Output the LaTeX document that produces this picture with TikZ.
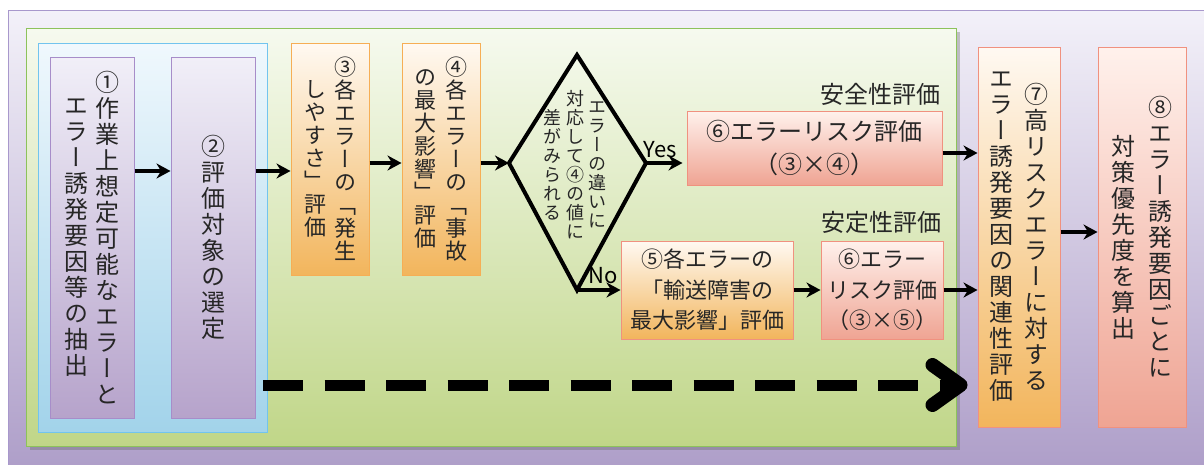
\documentclass[tikz,border=0pt]{standalone}
\usepackage{fontspec}
\usepackage{tikz}
\usetikzlibrary{positioning,arrows.meta,shadows}

\newfontfamily\jp{Noto Sans CJK JP}
\newfontfamily\vjp[RawFeature=+vert]{Noto Sans CJK JP}

\definecolor{txt}{HTML}{262626}
\definecolor{bgtop}{HTML}{F3F1F9}
\definecolor{bgbot}{HTML}{AD9DC8}
\definecolor{bgline}{HTML}{A898CC}
\definecolor{grntop}{HTML}{F6FAEF}
\definecolor{grnbot}{HTML}{C0D688}
\definecolor{grnline}{HTML}{8DC25B}
\definecolor{blutop}{HTML}{F0F8FD}
\definecolor{blubot}{HTML}{A2D3EA}
\definecolor{bluline}{HTML}{72C4EE}
\definecolor{purtop}{HTML}{F1EFF8}
\definecolor{purbot}{HTML}{B6A3CB}
\definecolor{purline}{HTML}{A78DC9}
\definecolor{orgtop}{HTML}{FFF9F2}
\definecolor{orgbot}{HTML}{F2B55C}
\definecolor{orgline}{HTML}{F6AE55}
\definecolor{pnktop}{HTML}{FFF1EC}
\definecolor{pnkbot}{HTML}{EFA493}
\definecolor{pnkline}{HTML}{F0917F}

% one character per line, columns centred against each other
\makeatletter
\def\vc@l#1{\ifx#1\relax\else\hbox to\hsize{\hss#1\hss}\expandafter\vc@l\fi}
\newcommand\vcol[1]{\parbox[c]{1em}{\lineskiplimit=-\maxdimen\vc@l#1\relax}}
\makeatother

\begin{document}
\begin{tikzpicture}[x=1pt, y=-1pt,
    box/.style = {draw, line width=1pt, inner sep=0pt, text=txt},
    purp/.style = {box, draw=purline, top color=purtop, bottom color=purbot,
        minimum width=84pt, minimum height=361pt, font=\vjp\fontsize{24}{26}\selectfont},
    orng/.style = {box, draw=orgline, top color=orgtop, bottom color=orgbot,
        minimum width=78pt, minimum height=232pt, font=\vjp\fontsize{22}{23}\selectfont},
    pink/.style = {box, draw=pnkline, top color=pnktop, bottom color=pnkbot},
    htext/.style = {align=center, font=\jp\fontsize{22}{30.5}\selectfont},
    lbl/.style = {inner sep=2pt, text=txt, font=\jp\fontsize{24}{26}\selectfont},
    yn/.style = {inner sep=1pt, text=black, font=\jp\fontsize{22}{24}\selectfont},
    arr/.style = {line width=4.5pt, -{Stealth[length=14pt,width=15pt]}},
    darr/.style = {line width=11pt, dash pattern=on 40pt off 21.5pt,
        -{Straight Barb[length=28pt,width=40pt,line width=14pt,round]}}]
    \useasboundingbox (0,0) rectangle (1204,464);
    % Background
    \fill[white] (0,0) rectangle (1204,464);
    \path[draw=bgline, line width=1pt, top color=bgtop, bottom color=bgbot] (8,10) rectangle (1215,475);
    \path[draw=grnline, line width=1pt, top color=grntop, bottom color=grnbot,
        drop shadow={shadow xshift=4pt, shadow yshift=-4pt, fill=black!60, opacity=0.35}] (26,28) rectangle (956,446);
    \path[draw=bluline, line width=1pt, top color=blutop, bottom color=blubot] (38,43) rectangle (267,432);
    % Nodes
    \node[purp] (b1) at (92,237.5) {\vcol{エラー誘発要因等の抽出}\hspace{7pt}\vcol{①作業上想定可能なエラーと}};
    \node[purp] (b2) [right=36pt of b1] {\vcol{②評価対象の選定}};
    \node[orng] (b3) at (330,159) {\vcol{しやすさ」評価}\hspace{8pt}\vcol{③各エラーの「発生}};
    \node[orng] (b4) [right=32pt of b3] {\vcol{の最大影響」評価}\hspace{9pt}\vcol{④各エラーの「事故}};
    \coordinate (dl) at (509,163);
    \coordinate (dt) at (577,55);
    \coordinate (dr) at (646,163);
    \coordinate (db) at (577,290);
    \draw[line width=4pt, line join=miter] (dl) -- (dt) -- (dr) -- (db) -- cycle;
    \node[text=txt, font=\vjp\fontsize{18}{19}\selectfont] (q) at (575,165)
        {\vcol{差がみられる}\hspace{5pt}\vcol{対応して④の値に}\hspace{4pt}\vcol{エラーの違いに}};
    \node[pink, htext, minimum width=255pt, minimum height=74pt, font=\jp\fontsize{24}{33}\selectfont]
        (b6a) at (814.5,148) {⑥エラーリスク評価\\（③×④）};
    \node[box, draw=pnkline, top color=orgtop, bottom color=orgbot, htext,
        minimum width=172pt, minimum height=98pt] (b5) at (707,290) {⑤各エラーの\\「輸送障害の\\最大影響」評価};
    \node[pink, htext, minimum width=122pt, minimum height=98pt] (b6b) [right=27pt of b5] {⑥エラー\\リスク評価\\（③×⑤）};
    \node[lbl] (l1) [above left=3pt and 0pt of b6a.north east] {安全性評価};
    \node[lbl] (l2) [above left=5pt and 0pt of b6b.north east] {安定性評価};
    \node[orng, draw=pnkline, minimum width=82pt, minimum height=380pt, font=\vjp\fontsize{24}{26}\selectfont]
        (b7) at (1019,237) {\vcol{エラー誘発要因の関連性評価}\hspace{11pt}\vcol{⑦高リスクエラーに対する}};
    \node[pink, minimum width=88pt, minimum height=380pt, font=\vjp\fontsize{24}{26}\selectfont]
        (b8) [right=37pt of b7] {\vcol{対策優先度を算出}\hspace{13pt}\vcol{⑧エラー誘発要因ごとに}};
    \coordinate (ds) at (263,385);
    % Edges
    \draw[arr] ([yshift=66.5pt]b1.east) -- ([yshift=66.5pt]b2.west);
    \draw[arr] ([yshift=66.5pt]b2.east) -- ([yshift=66.5pt]b2.east -| b3.west);
    \draw[arr] ([yshift=-4pt]b3.east) -- ([yshift=-4pt]b4.west);
    \draw[arr] ([yshift=-4pt]b4.east) -- (dl);
    \draw[arr, shorten >=4pt] (dr) -- (dr -| b6a.west) node[yn, pos=0.35, above, yshift=2pt] (yes) {Yes};
    \draw[arr] (db) -- (db -| b5.west) node[yn, pos=0.6, above, yshift=3pt] (no) {No};
    \draw[arr] (b5) -- (b6b);
    \draw[arr] ([yshift=-5pt]b6a.east) -- ([yshift=-5pt]b6a.east -| b7.west);
    \draw[arr] (b6b.east) -- (b6b.east -| b7.west);
    \draw[arr] ([yshift=5pt]b7.east) -- ([yshift=5pt]b8.west);
    \draw[darr] (ds) -- ([xshift=-10pt]b7.west |- ds);
\end{tikzpicture}
\end{document}
